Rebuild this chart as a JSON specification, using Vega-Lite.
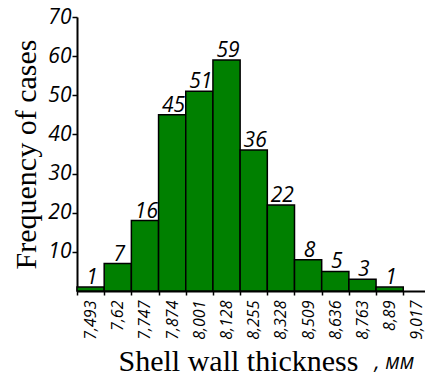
{
  "$schema": "https://vega.github.io/schema/vega-lite/v6.json",
  "width": 348,
  "height": 274,
  "autosize": "none",
  "padding": {"left": 77, "top": 17, "right": 0, "bottom": 87},
  "background": "white",
  "config": {"view": {"stroke": null}},
  "data": {
    "values": [
      {"lo": 7.493, "hi": 7.620, "count": 1, "label": "1"},
      {"lo": 7.620, "hi": 7.747, "count": 7, "label": "7"},
      {"lo": 7.747, "hi": 7.874, "count": 18, "label": "16"},
      {"lo": 7.874, "hi": 8.001, "count": 45, "label": "45"},
      {"lo": 8.001, "hi": 8.128, "count": 51, "label": "51"},
      {"lo": 8.128, "hi": 8.255, "count": 59, "label": "59"},
      {"lo": 8.255, "hi": 8.382, "count": 36, "label": "36"},
      {"lo": 8.382, "hi": 8.509, "count": 22, "label": "22"},
      {"lo": 8.509, "hi": 8.636, "count": 8, "label": "8"},
      {"lo": 8.636, "hi": 8.763, "count": 5, "label": "5"},
      {"lo": 8.763, "hi": 8.890, "count": 3, "label": "3"},
      {"lo": 8.890, "hi": 9.017, "count": 1, "label": "1"}
    ]
  },
  "layer": [
    {
      "mark": {"type": "bar", "fill": "#008000", "stroke": "black", "strokeWidth": 1.5},
      "encoding": {
        "x": {
          "field": "lo", "type": "quantitative",
          "scale": {"domain": [7.493, 9.1186], "nice": false, "zero": false},
          "axis": {
            "orient": "bottom",
            "values": [7.493, 7.620, 7.747, 7.874, 8.001, 8.128, 8.255, 8.382, 8.509, 8.636, 8.763, 8.890, 9.017],
            "labelExpr": "datum.value > 8.38 && datum.value < 8.39 ? '8,328' : replace(format(datum.value, '.3~f'), '.', ',')",
            "labelAngle": -90, "labelOffset": 13.6,
            "labelFont": "Open Sans", "labelFontStyle": "italic", "labelFontSize": 16, "labelColor": "black",
            "labelPadding": 5, "labelFlush": false, "labelOverlap": false,
            "tickSize": 4, "tickColor": "black", "tickWidth": 1.5,
            "domainColor": "black", "domainWidth": 2, "grid": false,
            "title": "Shell wall thickness", "titleFont": "Liberation Serif, Times New Roman, serif", "titleFontSize": 30,
            "titleFontWeight": "normal", "titleColor": "black",
            "titleAnchor": "start", "titleAlign": "left", "titleBaseline": "alphabetic",
            "titleX": 41, "titleY": 79
          }
        },
        "x2": {"field": "hi"},
        "y": {
          "field": "count", "type": "quantitative",
          "scale": {"domain": [0, 70], "nice": false},
          "axis": {
            "values": [10, 20, 30, 40, 50, 60, 70],
            "labelFont": "Open Sans", "labelFontStyle": "italic", "labelFontSize": 21, "labelColor": "black",
            "labelPadding": 1,
            "tickSize": 5, "tickWidth": 1.5, "tickColor": "black",
            "domainColor": "black", "domainWidth": 2, "grid": false,
            "title": "Frequency of cases", "titleFont": "Liberation Serif, Times New Roman, serif", "titleFontSize": 30,
            "titleFontWeight": "normal", "titleColor": "black", "titlePadding": 6
          }
        },
        "y2": {"datum": 0}
      }
    },
    {
      "mark": {"type": "text", "font": "Open Sans", "fontStyle": "italic", "fontSize": 21, "baseline": "bottom", "dx": 15, "dy": 1, "color": "black"},
      "encoding": {
        "x": {
          "field": "lo", "type": "quantitative",
          "axis": {
            "orient": "bottom", "domain": false, "ticks": false, "labels": false, "grid": false,
            "title": ", мм", "titleFont": "Open Sans", "titleFontStyle": "italic", "titleFontSize": 21,
            "titleFontWeight": "normal", "titleColor": "black",
            "titleAnchor": "start", "titleAlign": "left", "titleBaseline": "alphabetic",
            "titleX": 297, "titleY": 77
          }
        },
        "y": {"field": "count", "type": "quantitative"},
        "text": {"field": "label"}
      }
    }
  ],
  "resolve": {"axis": {"x": "independent"}}
}
